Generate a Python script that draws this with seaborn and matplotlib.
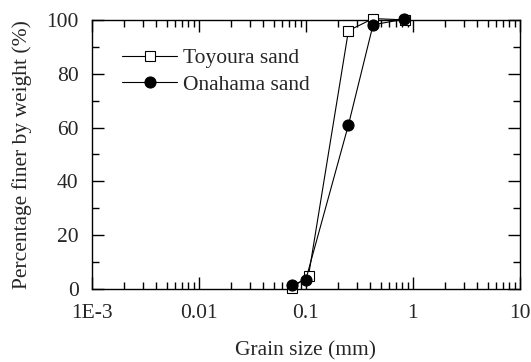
import matplotlib
matplotlib.use("Agg")
import matplotlib.pyplot as plt
import seaborn as sns
import pandas as pd
import numpy as np
from matplotlib.ticker import LogLocator, NullFormatter, MultipleLocator

toyoura_size = [0.075, 0.106, 0.25, 0.425, 0.85]
toyoura_pct = [0.5, 5.0, 96.0, 100.5, 100.0]
onahama_size = [0.075, 0.1, 0.25, 0.425, 0.82]
onahama_pct = [1.5, 3.5, 61.0, 98.2, 100.2]

xticks = [1e-3, 1e-2, 1e-1, 1, 10]
xticklabels = ["1E-3", "0.01", "0.1", "1", "10"]
yticks = [0, 20, 40, 60, 80, 100]

sns.set_style("ticks")
plt.rcParams['font.family'] = ['Liberation Serif', 'DejaVu Serif']
fs = 15.5
plt.rcParams['font.size'] = fs

fig = plt.figure(figsize=(5.31, 3.62), dpi=100)
ax = fig.add_axes([0.173, 0.2017, 0.806, 0.7433])

df_t = pd.DataFrame({"size": toyoura_size, "pct": toyoura_pct})
df_o = pd.DataFrame({"size": onahama_size, "pct": onahama_pct})

sns.lineplot(data=df_t, x="size", y="pct", ax=ax, color="black", lw=0.8,
             marker="s", markersize=7, markerfacecolor="white",
             markeredgecolor="black", markeredgewidth=0.8,
             label="Toyoura sand", sort=False, clip_on=False, zorder=3)
sns.lineplot(data=df_o, x="size", y="pct", ax=ax, color="black", lw=0.8,
             marker="o", markersize=8, markerfacecolor="black",
             markeredgecolor="black",
             label="Onahama sand", sort=False, clip_on=False, zorder=4)

ax.set_xscale("log")
ax.set_xlim(1e-3, 10)
ax.set_ylim(0, 100)
ax.set_xticks(xticks)
ax.set_xticklabels(xticklabels)
ax.xaxis.set_minor_locator(LogLocator(base=10, subs=np.arange(2, 10)))
ax.xaxis.set_minor_formatter(NullFormatter())
ax.set_yticks(yticks)
ax.yaxis.set_minor_locator(MultipleLocator(10))

ax.tick_params(which="both", direction="in", top=True, right=True, color="black", width=1.0)
ax.tick_params(which="major", length=8.5, labelsize=fs)
ax.tick_params(which="minor", length=5)
ax.tick_params(axis="x", which="major", pad=11)
ax.tick_params(axis="y", which="major", pad=9.5)
for s in ax.spines.values():
    s.set_linewidth(1.0)
    s.set_color("black")

ax.set_xlabel("Grain size (mm)", fontsize=fs, labelpad=13)
ax.set_ylabel("Percentage finer by weight (%)", fontsize=fs, labelpad=10)

leg = ax.legend(loc="upper left", bbox_to_anchor=(0.051, 0.927), frameon=False,
                handlelength=2.55, handletextpad=0.28, labelspacing=0.3,
                borderaxespad=0, fontsize=fs)

fig.savefig("out.png", dpi=100)
